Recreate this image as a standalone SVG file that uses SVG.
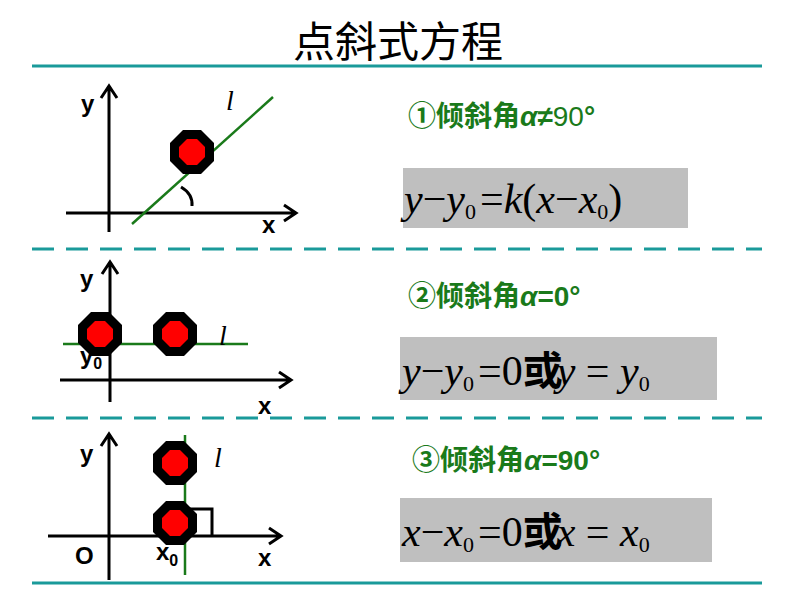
<svg xmlns="http://www.w3.org/2000/svg" width="794" height="596" viewBox="0 0 794 596">
<defs>
<style>
.ax{stroke:#000;stroke-width:3;fill:none}
.gl{stroke:#1a7a1a;stroke-width:2.5}
.sep{stroke:#1a9a9a;stroke-width:3}
.lab{font-family:"Liberation Sans",Arial,sans-serif;font-weight:bold;font-size:24px;fill:#000}
.li{font-family:"Liberation Serif",serif;font-style:italic;font-size:28px;fill:#000}
.hd{font-family:"Liberation Sans","Noto Sans CJK SC",sans-serif;font-weight:bold;font-size:28px;fill:#1a7a1a}
.fm{font-family:"Liberation Serif","Noto Sans CJK SC",serif;font-size:42px;fill:#000}
.box{fill:#bfbfbf}
.hz{font-family:"Noto Sans CJK SC",sans-serif;font-size:40px;font-weight:bold}
</style>
<g id="oct">
<polygon points="9,-22 22,-9 22,9 9,22 -9,22 -22,9 -22,-9 -9,-22" fill="#000"/>
<polygon points="5,-13 13,-5 13,5 5,13 -5,13 -13,5 -13,-5 -5,-13" fill="#f00"/>
</g>
</defs>
<rect width="794" height="596" fill="#fff"/>
<text x="398" y="57" text-anchor="middle" font-family="Noto Sans CJK SC,sans-serif" font-size="42">点斜式方程</text>
<g id="separators">
<line class="sep" x1="32" y1="66" x2="762" y2="66"/>
<line class="sep" x1="32" y1="249" x2="762" y2="249" stroke-dasharray="22,12"/>
<line class="sep" x1="32" y1="418" x2="762" y2="418" stroke-dasharray="22,12"/>
<line class="sep" x1="32" y1="583" x2="762" y2="583"/>
</g>
<g id="graph1">
<path class="ax" d="M109 232V86M101 98L109 86L117 98M66 213H296M284 205L296 213L284 221"/>
<line class="gl" x1="132" y1="224" x2="273" y2="97"/>
<use href="#oct" x="192" y="152"/>
<path class="ax" d="M181 187Q193 194 192 206"/>
<text class="lab" x="81" y="112">y</text><text class="lab" x="262" y="233">x</text>
<text class="li" x="226" y="110">l</text>
</g>
<g id="graph2">
<path class="ax" d="M110 402V262M102 274L110 262L118 274M60 380H291M279 372L291 380L279 388"/>
<line class="gl" x1="63" y1="344" x2="248" y2="344"/>
<use href="#oct" x="100" y="334"/>
<use href="#oct" x="175" y="334"/>
<text class="lab" x="80" y="287">y</text><text class="lab" x="258" y="414">x</text>
<text class="lab" x="80" y="364">y<tspan font-size="16" dy="5">0</tspan></text>
<text class="li" x="219" y="345">l</text>
</g>
<g id="graph3">
<path class="ax" d="M109 580V434M101 446L109 434L117 446M48 536H281M269 528L281 536L269 544"/>
<line class="gl" x1="185" y1="435" x2="185" y2="575"/>
<path class="ax" d="M190 509H212V535"/>
<use href="#oct" x="175" y="463"/>
<use href="#oct" x="175" y="523"/>
<text class="lab" x="80" y="462">y</text><text class="lab" x="258" y="566">x</text>
<text class="lab" x="75" y="564">O</text>
<text class="lab" x="156" y="560">x<tspan font-size="16" dy="6">0</tspan></text>
<text class="li" x="214" y="467">l</text>
</g>
<g id="case1">
<text class="hd" x="408" y="126">①倾斜角<tspan font-style="italic">α</tspan>≠<tspan font-weight="normal">90</tspan>°</text>
<rect class="box" x="403" y="168" width="285" height="60"/>
<text class="fm" x="404" y="213"><tspan font-style="italic">y</tspan>−<tspan font-style="italic">y</tspan><tspan font-size="22" dy="6">0</tspan><tspan dy="-6" dx="4">=</tspan><tspan font-style="italic">k</tspan>(<tspan font-style="italic">x</tspan>−<tspan font-style="italic">x</tspan><tspan font-size="22" dy="6">0</tspan><tspan dy="-6">)</tspan></text>
</g>
<g id="case2">
<text class="hd" x="408" y="306">②倾斜角<tspan font-style="italic">α</tspan>=0°</text>
<rect class="box" x="400" y="337" width="317" height="63"/>
<text class="fm" x="402" y="385"><tspan font-style="italic">y</tspan>−<tspan font-style="italic">y</tspan><tspan font-size="22" dy="6">0</tspan><tspan dy="-6" dx="4">=0</tspan><tspan class="hz">或</tspan><tspan font-style="italic" dx="-6">y</tspan> = <tspan font-style="italic">y</tspan><tspan font-size="22" dy="6">0</tspan></text>
</g>
<g id="case3">
<text class="hd" x="412" y="470">③倾斜角<tspan font-style="italic">α</tspan>=90°</text>
<rect class="box" x="400" y="498" width="312" height="64"/>
<text class="fm" x="402" y="546"><tspan font-style="italic">x</tspan>−<tspan font-style="italic">x</tspan><tspan font-size="22" dy="6">0</tspan><tspan dy="-6" dx="4">=0</tspan><tspan class="hz">或</tspan><tspan font-style="italic" dx="-6">x</tspan> = <tspan font-style="italic">x</tspan><tspan font-size="22" dy="6">0</tspan></text>
</g>
</svg>
